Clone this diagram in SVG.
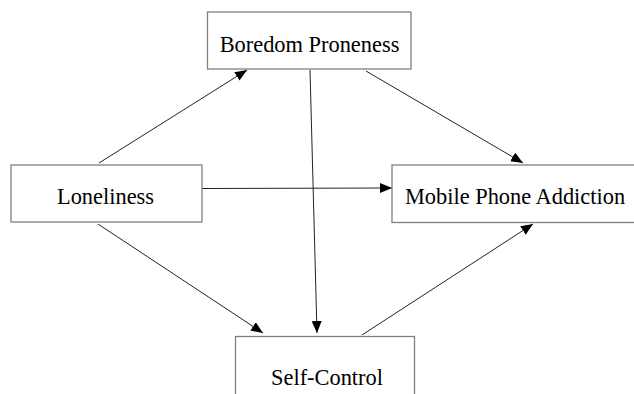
<svg xmlns="http://www.w3.org/2000/svg" width="634" height="394" viewBox="0 0 634 394">
<style>
.box{fill:#fff;stroke:#808080;stroke-width:1.3}
.lbl{font-family:"Liberation Serif","Times New Roman",serif;font-size:22.4px;fill:#000;text-anchor:middle}
.edge{stroke:#222;stroke-width:1;fill:none;marker-end:url(#ah)}
</style>
<defs>
<marker id="ah" markerUnits="userSpaceOnUse" markerWidth="13" markerHeight="11" refX="12" refY="5" orient="auto">
<path d="M0,0 L12,5 L0,10 z" fill="#000"/>
</marker>
</defs>
<rect width="634" height="394" fill="#fff"/>
<g id="connectors">
<line class="edge" x1="99" y1="163" x2="247" y2="70"/>
<line class="edge" x1="202" y1="188.5" x2="392" y2="188"/>
<line class="edge" x1="98" y1="224" x2="263" y2="333"/>
<line class="edge" x1="310" y1="70" x2="317" y2="333"/>
<line class="edge" x1="366" y1="71" x2="523" y2="163"/>
<line class="edge" x1="362" y1="335" x2="533" y2="224"/>
</g>
<g id="boredom">
<rect class="box" x="207.5" y="12" width="203.5" height="57"/>
<text class="lbl" x="309.5" y="52">Boredom Proneness</text>
</g>
<g id="loneliness">
<rect class="box" x="11" y="165" width="191" height="57"/>
<text class="lbl" x="105.5" y="204">Loneliness</text>
</g>
<g id="mobile">
<rect class="box" x="392" y="165" width="250" height="57.5"/>
<text class="lbl" x="515" y="203.5">Mobile Phone Addiction</text>
</g>
<g id="selfcontrol">
<rect class="box" x="235.5" y="336.5" width="179" height="70"/>
<text class="lbl" x="327" y="385">Self-Control</text>
</g>
</svg>
